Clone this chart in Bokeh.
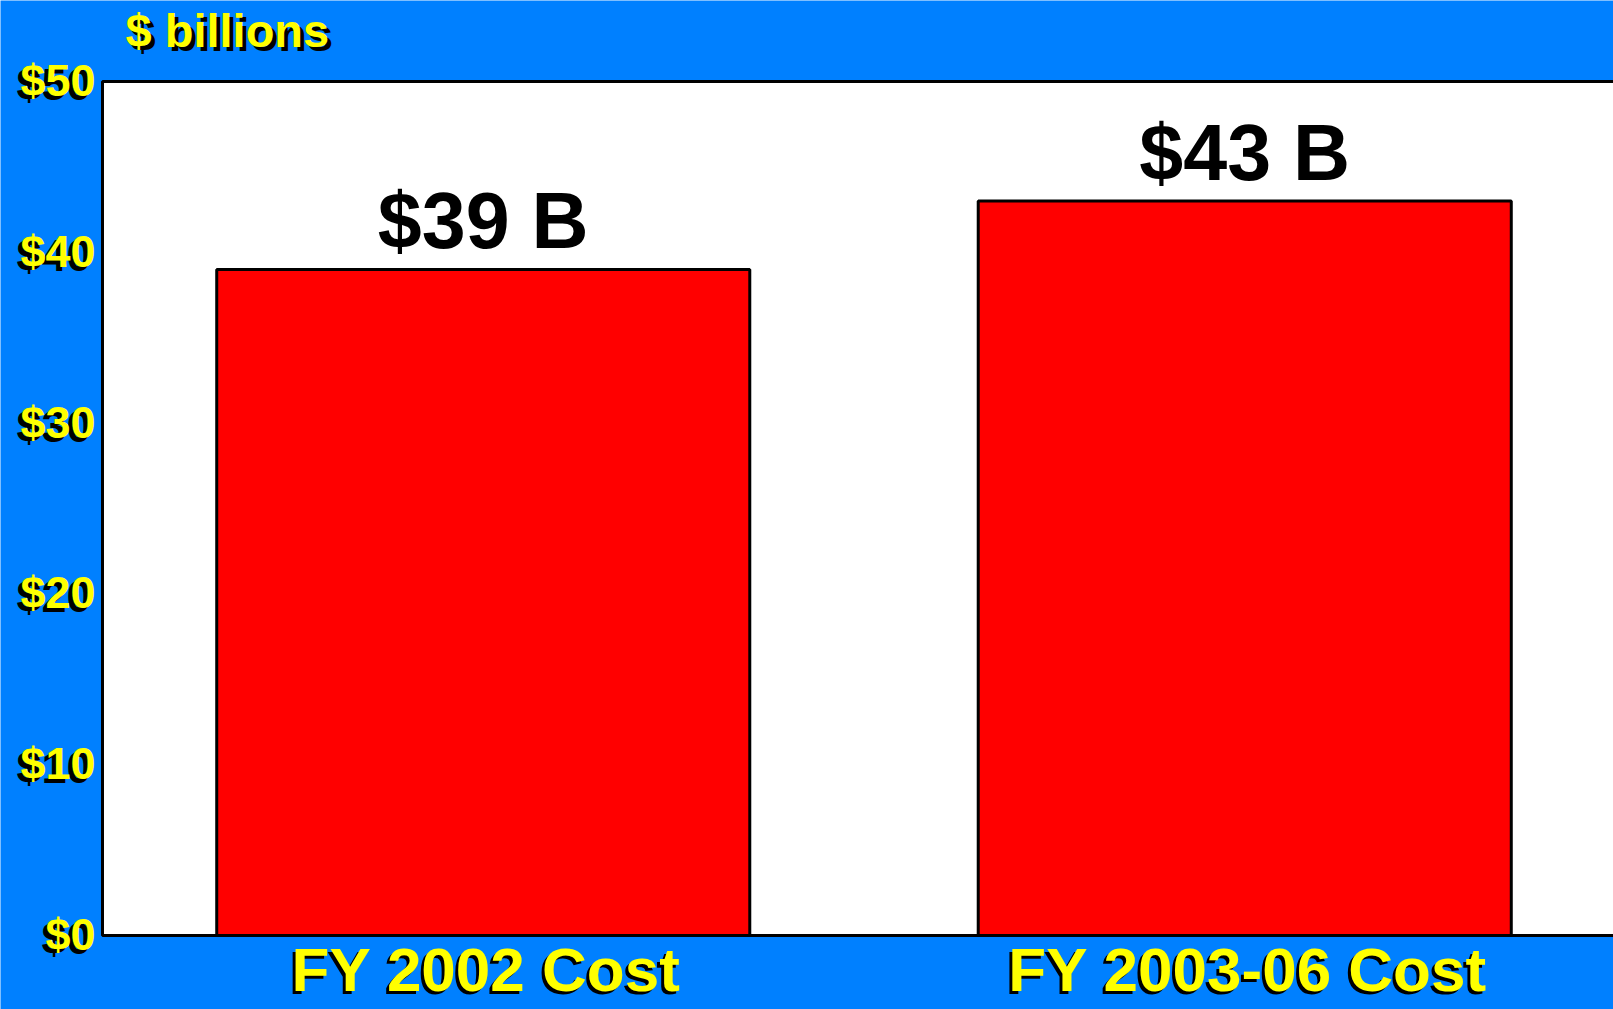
from bokeh.plotting import figure
from bokeh.models import Range1d
from bokeh.core.properties import value
from bokeh.embed import file_html
from bokeh.resources import INLINE

categories = ["FY 2002 Cost", "FY 2003-06 Cost"]
costs = [39, 43]
value_labels = ["$39 B", "$43 B"]
y_ticks = [0, 10, 20, 30, 40, 50]
y_tick_labels = ["$0", "$10", "$20", "$30", "$40", "$50"]
unit_label = ["$ billions"]

FONT = "Liberation Sans"
BLUE = "#0080FF"
YELLOW = "#FFFF00"

W, H = 1613, 1009
# plot panel placement (canvas px): data x=0 at 102, y=0 at 935, y=50 at 81
LEFT, BOTTOM, TOP = 102, 935, 81
PX_X = 761.5                             # px per category
PX_Y = (BOTTOM - TOP) / max(y_ticks)     # px per $1B
x_start = -LEFT / PX_X
x_end = (W - LEFT) / PX_X
y_start = -(H - BOTTOM) / PX_Y
y_end = max(y_ticks) + TOP / PX_Y

positions = [i + 0.5 for i in range(len(categories))]

p = figure(width=W, height=H, output_backend="svg", toolbar_location=None,
           x_range=Range1d(x_start, x_end), y_range=Range1d(y_start, y_end),
           min_border=0)
p.border_fill_color = BLUE
p.background_fill_color = BLUE
p.outline_line_color = None
p.axis.visible = False
p.grid.visible = False

# white plot panel
p.quad(left=[0], right=[len(categories)], bottom=[0], top=[max(y_ticks)],
       fill_color="white", line_color="black", line_width=3)

p.vbar(x=positions, top=costs, width=0.70, bottom=0,
       fill_color="#FF0000", line_color="black", line_width=3)

p.text(x=positions, y=costs, text=value_labels, y_offset=-49,
       text_align="center", text_baseline="alphabetic",
       text_font=value(FONT), text_font_style="bold", text_font_size="79px",
       text_color="black")

def shadow_text(xs, ys, texts, xo, yo, dx, dy, size, align, baseline):
    for col, ox, oy in (("black", xo + dx, yo + dy), (YELLOW, xo, yo)):
        p.text(x=xs, y=ys, text=texts, x_offset=ox, y_offset=oy,
               text_align=align, text_baseline=baseline,
               text_font=value(FONT), text_font_style="bold",
               text_font_size=size, text_color=col)

shadow_text([0] * len(y_ticks), y_ticks, y_tick_labels, -7, -1, -4, 4,
            "45px", "right", "middle")
shadow_text(positions, [0] * len(categories), categories, 3, 34, -3, 3,
            "62px", "center", "alphabetic")
shadow_text([0], [max(y_ticks)], unit_label, 23, -51, 4, 4,
            "47px", "left", "alphabetic")

open("out.html", "w").write(file_html(p, INLINE))
